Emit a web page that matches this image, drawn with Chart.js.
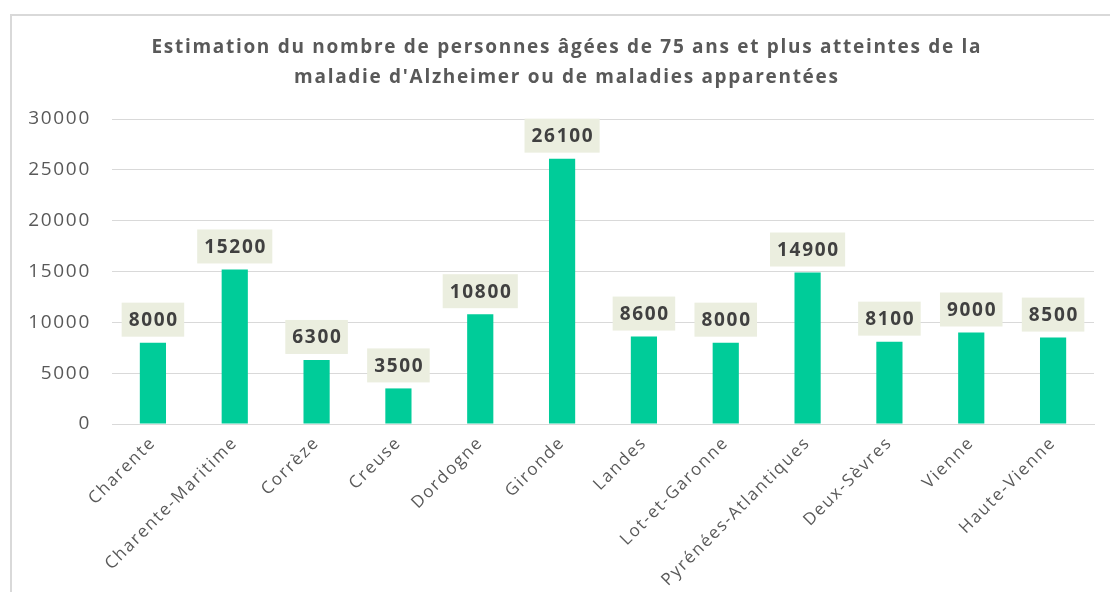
<!DOCTYPE html>
<html>
<head>
<meta charset="utf-8">
<script src="https://cdn.jsdelivr.net/npm/chart.js@4/dist/chart.umd.min.js"></script>
<style>
  html, body { margin: 0; padding: 0; background: #ffffff; }
  #frame { position: absolute; left: 10px; top: 14px; width: 1100px; height: 578px;
           border-top: 2px solid #d9d9d9; border-left: 2px solid #d9d9d9; box-sizing: border-box; }
  #wrap { position: absolute; left: 0; top: 0; width: 1098px; height: 576px; }
</style>
</head>
<body>
<div id="frame"><div id="wrap"><canvas id="c"></canvas></div></div>
<script>
const categories = ["Charente", "Charente-Maritime", "Corrèze", "Creuse", "Dordogne", "Gironde", "Landes", "Lot-et-Garonne", "Pyrénées-Atlantiques", "Deux-Sèvres", "Vienne", "Haute-Vienne"];
const values = [8000, 15200, 6300, 3500, 10800, 26100, 8600, 8000, 14900, 8100, 9000, 8500];
const titleLines = ["Estimation du nombre de personnes âgées de 75 ans et plus atteintes de la", "maladie d'Alzheimer ou de maladies apparentées"];
const yTicks = [0, 5000, 10000, 15000, 20000, 25000, 30000];

const FONT = "'Open Sans', 'DejaVu Sans', sans-serif";
const SP = 1.7;
const SPACING = SP + 'px';

const spacingPlugin = {
  id: 'spacing',
  beforeUpdate(chart) { chart.ctx.letterSpacing = SPACING; },
  beforeDraw(chart) { chart.ctx.letterSpacing = SPACING; }
};

function drawCentered(ctx, txt, cx, cy) {
  const tw = ctx.measureText(txt).width - SP;
  ctx.fillText(txt, cx - tw / 2, cy);
}

const titlePlugin = {
  id: 'customTitle',
  afterDraw(chart) {
    const ctx = chart.ctx;
    ctx.save();
    ctx.letterSpacing = SPACING;
    ctx.font = "bold 19px " + FONT;
    ctx.fillStyle = '#595959';
    ctx.textAlign = 'left';
    ctx.textBaseline = 'middle';
    drawCentered(ctx, chart.options.plugins.customTitle.lines[0], 554, 32);
    drawCentered(ctx, chart.options.plugins.customTitle.lines[1], 554, 62);
    ctx.restore();
  }
};

const labelPlugin = {
  id: 'boxLabels',
  afterDatasetsDraw(chart) {
    const ctx = chart.ctx;
    const meta = chart.getDatasetMeta(0);
    ctx.save();
    ctx.letterSpacing = SPACING;
    ctx.font = "bold 19px " + FONT;
    ctx.textAlign = 'left';
    ctx.textBaseline = 'middle';
    meta.data.forEach((bar, i) => {
      const txt = String(chart.data.datasets[0].data[i]);
      const tw = ctx.measureText(txt).width - SP;
      const w = tw + 14;
      const h = 34;
      const bottom = bar.y - 6;
      ctx.fillStyle = '#ebeedf';
      ctx.fillRect(bar.x - w / 2, bottom - h, w, h);
      ctx.fillStyle = '#404040';
      ctx.fillText(txt, bar.x - tw / 2, bottom - h / 2 + 1);
    });
    ctx.restore();
  }
};

new Chart(document.getElementById('c'), {
  type: 'bar',
  data: {
    labels: categories,
    datasets: [{
      data: values,
      backgroundColor: '#00cc99',
      barPercentage: 0.32,
      categoryPercentage: 1.0
    }]
  },
  options: {
    responsive: true,
    maintainAspectRatio: false,
    animation: false,
    layout: { padding: { left: 0, right: 16, top: 103, bottom: 0 } },
    plugins: {
      legend: { display: false },
      tooltip: { enabled: false },
      title: { display: false },
      customTitle: { lines: titleLines }
    },
    scales: {
      x: {
        grid: { display: false, drawTicks: false },
        border: { display: true, color: '#d9d9d9', width: 1 },
        ticks: {
          color: '#595959',
          font: { family: FONT, size: 17 },
          maxRotation: 45, minRotation: 45,
          padding: 9,
          autoSkip: false
        },
        afterFit(scale) { scale.height = 168; }
      },
      y: {
        min: 0, max: 30000,
        afterBuildTicks(scale) { scale.ticks = yTicks.map(v => ({ value: v })); },
        grid: { color: '#d9d9d9', lineWidth: 1, drawTicks: false },
        border: { display: false },
        ticks: {
          color: '#595959',
          font: { family: FONT, size: 19 },
          padding: 21,
          callback: v => String(v)
        },
        afterFit(scale) { scale.width = 100; }
      }
    }
  },
  plugins: [spacingPlugin, titlePlugin, labelPlugin]
});
</script>
</body>
</html>
